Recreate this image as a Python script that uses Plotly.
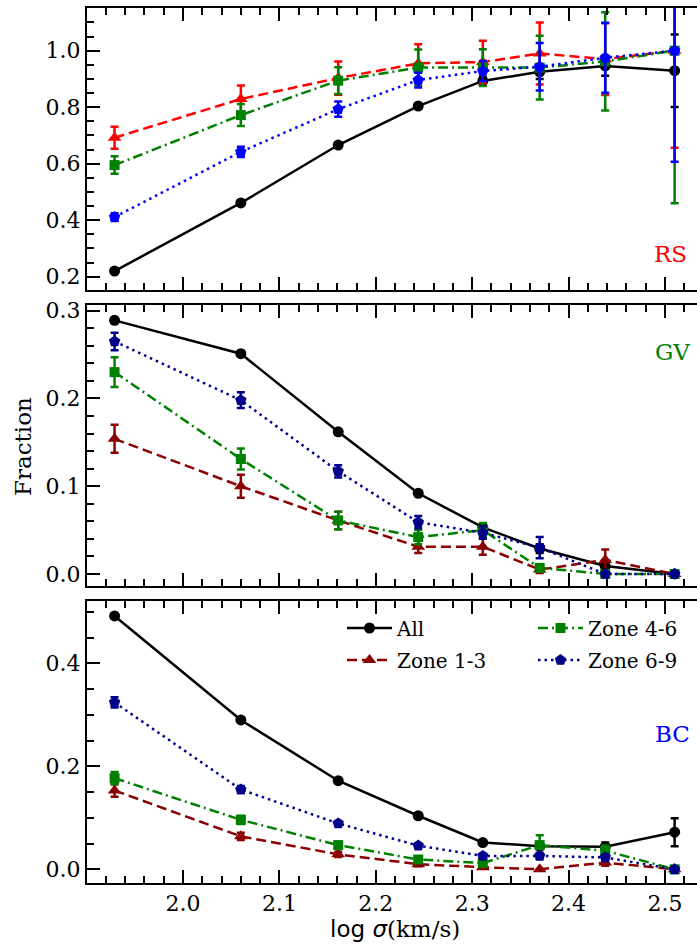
import plotly.graph_objects as go

# velocity dispersion bins (log sigma, km/s)
log_sigma = [1.929, 2.060, 2.161, 2.244, 2.311, 2.370, 2.438, 2.510]

# red sequence fractions
rs_all = [0.220, 0.461, 0.666, 0.804, 0.893, 0.925, 0.946, 0.929]
rs_all_err = [0.005, 0.006, 0.007, 0.008, 0.015, 0.025, 0.035, 0.128]
rs_z13 = [0.692, 0.829, 0.903, 0.955, 0.960, 0.990, 0.970, 1.000]
rs_z13_err = [0.039, 0.048, 0.059, 0.068, 0.075, 0.110, 0.127, 0.344]
rs_z46 = [0.595, 0.772, 0.894, 0.940, 0.940, 0.940, 0.962, 1.000]
rs_z46_err = [0.031, 0.039, 0.047, 0.064, 0.065, 0.113, 0.174, 0.540]
rs_z69 = [0.411, 0.642, 0.793, 0.896, 0.928, 0.943, 0.975, 1.000]
rs_z69_err = [0.014, 0.018, 0.027, 0.026, 0.035, 0.084, 0.124, 0.393]

# green valley fractions
gv_all = [0.289, 0.251, 0.162, 0.092, 0.053, 0.029, 0.009, 0.000]
gv_all_err = [0.003, 0.003, 0.003, 0.003, 0.004, 0.005, 0.005, 0.000]
gv_z13 = [0.154, 0.100, 0.061, 0.031, 0.031, 0.005, 0.016, 0.000]
gv_z13_err = [0.016, 0.013, 0.010, 0.007, 0.009, 0.004, 0.012, 0.000]
gv_z46 = [0.230, 0.131, 0.061, 0.042, 0.050, 0.007, 0.000, 0.000]
gv_z46_err = [0.017, 0.012, 0.010, 0.008, 0.008, 0.004, 0.000, 0.000]
gv_z69 = [0.265, 0.198, 0.117, 0.059, 0.047, 0.030, 0.000, 0.000]
gv_z69_err = [0.010, 0.009, 0.007, 0.007, 0.007, 0.012, 0.000, 0.000]

# blue cloud fractions
bc_all = [0.492, 0.290, 0.172, 0.104, 0.052, 0.045, 0.044, 0.072]
bc_all_err = [0.004, 0.004, 0.004, 0.004, 0.004, 0.006, 0.008, 0.027]
bc_z13 = [0.153, 0.064, 0.029, 0.010, 0.004, 0.000, 0.013, 0.000]
bc_z13_err = [0.012, 0.007, 0.005, 0.004, 0.003, 0.000, 0.006, 0.000]
bc_z46 = [0.177, 0.096, 0.047, 0.019, 0.012, 0.047, 0.036, 0.000]
bc_z46_err = [0.012, 0.008, 0.006, 0.005, 0.005, 0.019, 0.010, 0.000]
bc_z69 = [0.324, 0.155, 0.089, 0.046, 0.026, 0.026, 0.023, 0.000]
bc_z69_err = [0.010, 0.007, 0.005, 0.004, 0.004, 0.006, 0.006, 0.000]

series_names = ["All", "Zone 1-3", "Zone 4-6", "Zone 6-9"]
symbols = ["circle", "triangle-up", "square", "pentagon"]
sizes = [11, 12, 10, 12]
dashes = ["solid", "10px,5px", "10px,4px,2px,4px", "2.5px,4px"]

FONT = "DejaVu Serif"

panels = [
    dict(vals=[rs_all, rs_z13, rs_z46, rs_z69],
         errs=[rs_all_err, rs_z13_err, rs_z46_err, rs_z69_err],
         colors=["#000000", "#FF0000", "#008000", "#0000FF"]),
    dict(vals=[gv_all, gv_z13, gv_z46, gv_z69],
         errs=[gv_all_err, gv_z13_err, gv_z46_err, gv_z69_err],
         colors=["#000000", "#8B0000", "#008000", "#00008B"]),
    dict(vals=[bc_all, bc_z13, bc_z46, bc_z69],
         errs=[bc_all_err, bc_z13_err, bc_z46_err, bc_z69_err],
         colors=["#000000", "#8B0000", "#008000", "#00008B"]),
]

legend_ids = ["legend", "legend2", "legend3", "legend4"]

fig = go.Figure()
for p, panel in enumerate(panels, start=1):
    suffix = "" if p == 1 else str(p)
    for k in range(4):
        c = panel["colors"][k]
        fig.add_trace(go.Scatter(
            x=log_sigma, y=panel["vals"][k],
            xaxis="x" + suffix, yaxis="y" + suffix,
            mode="lines+markers",
            name=series_names[k],
            line=dict(color=c, width=2.5, dash=dashes[k]),
            marker=dict(symbol=symbols[k], size=sizes[k], color=c, line=dict(width=0)),
            error_y=dict(type="data", array=panel["errs"][k], visible=True,
                         color=c, thickness=2.5, width=4),
            showlegend=(p == 3),
            legend=legend_ids[k],
        ))

# plot-area pixel layout
W, H = 697, 945
ML, MR, MT, MB = 87, 0, 8, 62
PH = H - MT - MB


def dom(top_px, bot_px):
    return [(H - MB - bot_px) / PH, (H - MB - top_px) / PH]


domains = [dom(8, 290), dom(305, 586), dom(601, 883)]
yranges = [[0.153, 1.151], [-0.0137, 0.3065], [-0.0266, 0.521]]
ydticks = [0.2, 0.1, 0.2]
yminor = [0.05, 0.02, 0.05]
xrange_ = [1.9004, 2.5332]

tick_common = dict(
    ticks="inside", ticklen=13, tickwidth=2, tickcolor="black",
    showgrid=False, zeroline=False,
    tickfont=dict(family=FONT, size=22, color="black"),
)

layout = dict(
    width=W, height=H,
    margin=dict(l=ML, r=MR, t=MT, b=MB),
    paper_bgcolor="white", plot_bgcolor="white",
    font=dict(family=FONT, color="black"),
)

for p in range(1, 4):
    suffix = "" if p == 1 else str(p)
    layout["xaxis" + suffix] = dict(
        tick_common, showline=True, linewidth=2, linecolor="black", mirror="ticks",
        anchor="y" + suffix, range=xrange_, domain=[0, 1],
        tick0=2.0, dtick=0.1, tickformat=".1f",
        showticklabels=(p == 3),
        minor=dict(dtick=0.02, tick0=2.0, ticks="inside", ticklen=7,
                   tickwidth=1.5, tickcolor="black", showgrid=False),
    )
    ycfg = dict(
        tick_common, range=yranges[p - 1], tick0=0, dtick=ydticks[p - 1],
        tickformat=".1f",
        minor=dict(dtick=yminor[p - 1], tick0=0, ticks="inside", ticklen=7,
                   tickwidth=1.5, tickcolor="black", showgrid=False),
    )
    layout["yaxis" + suffix] = dict(
        ycfg, showline=True, linewidth=2, linecolor="black", mirror=False,
        anchor="x" + suffix, domain=domains[p - 1],
    )
    # right-hand tick marks without a spine line (the frame edge is at the page edge)
    layout["yaxis" + str(p + 3)] = dict(
        ycfg, showline=False, overlaying="y" + suffix, side="right",
        anchor="x" + suffix, showticklabels=False,
    )


def px_x(px):
    return (px - ML) / (W - ML - MR)


def px_y(py):
    return (H - MB - py) / PH


# legend: two columns, one entry per legend box
leg_pos = {
    "legend": (402, 628), "legend2": (402, 660),
    "legend3": (593, 628), "legend4": (593, 660),
}
for lid, (tx, ty) in leg_pos.items():
    layout[lid] = dict(
        x=px_x(tx - 60), y=px_y(ty), xanchor="left", yanchor="middle",
        bgcolor="rgba(0,0,0,0)", borderwidth=0, itemwidth=45,
        font=dict(family=FONT, size=20, color="black"),
    )

annotations = [
    dict(text="RS", x=px_x(670), y=px_y(254), font=dict(size=23, color="#FF0000")),
    dict(text="GV", x=px_x(672), y=px_y(352), font=dict(size=23, color="#008000")),
    dict(text="BC", x=px_x(672), y=px_y(734), font=dict(size=23, color="#0000FF")),
    dict(text="Fraction", x=px_x(23), y=px_y(447), textangle=-90,
         font=dict(size=23, color="black")),
    dict(text="<span style='font-family:DejaVu Sans'>log </span>"
              "<span style='font-family:DejaVu Sans'><i>σ</i></span>(km/s)",
         x=px_x(395), y=px_y(929), font=dict(size=23, color="black")),
]
for a in annotations:
    a.update(xref="paper", yref="paper", showarrow=False,
             xanchor="center", yanchor="middle")
    a["font"]["family"] = FONT
layout["annotations"] = annotations

fig.update_layout(layout)
fig.write_html("out.html")
